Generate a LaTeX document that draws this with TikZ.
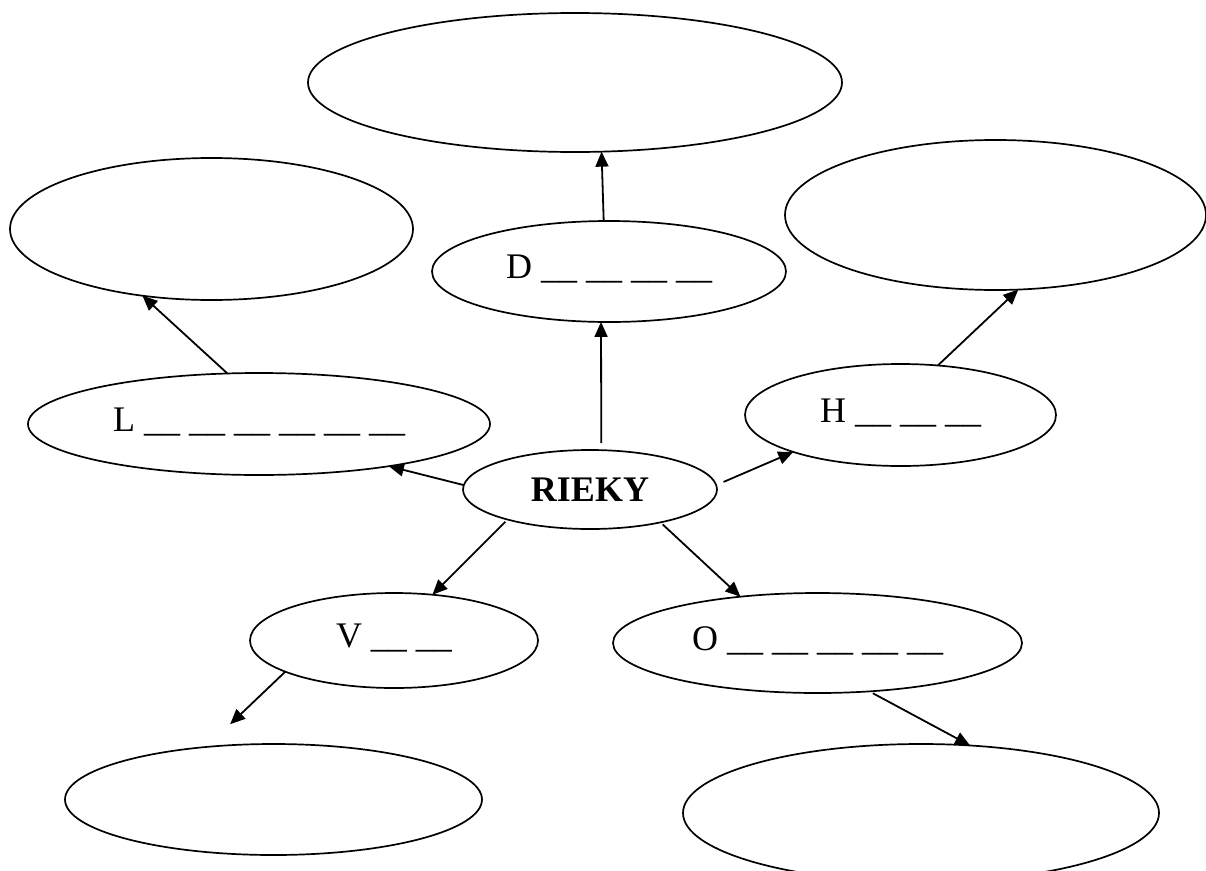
\documentclass[tikz,border=0pt]{standalone}
\usepackage{fontspec}
\setmainfont{Liberation Serif}
\usetikzlibrary{shapes.geometric,arrows.meta}
\tikzset{
  ell/.style={draw, ellipse, line width=1.7pt, inner sep=0pt, outer sep=0pt},
  blank/.style={text height=24pt, text depth=10pt},
  arr/.style={line width=1.8pt, -{Triangle[length=15pt,width=13pt]}}
}
\begin{document}
\begin{tikzpicture}[x=1pt,y=-1pt,font=\fontsize{36}{43}\selectfont]
\useasboundingbox (0,0) rectangle (1206,870);
\clip (0,0) rectangle (1206,870);
\node[ell, minimum width=534pt, minimum height=139pt] (top) at (575,82.5) {};
\node[ell, minimum width=403pt, minimum height=142pt] (tl) at (211.5,229) {};
\node[ell, minimum width=421pt, minimum height=150pt] (tr) at (995.5,215) {};
\node[ell, blank, minimum width=354pt, minimum height=101pt] (d) at (609,271.5) {D \_\_ \_\_ \_\_ \_\_};
\node[ell, blank, minimum width=462pt, minimum height=102pt] (l) at (259,424) {L \_\_ \_\_ \_\_ \_\_ \_\_ \_\_};
\node[ell, blank, minimum width=311pt, minimum height=102pt] (h) at (900.5,415) {H \_\_ \_\_ \_\_};
\node[ell, minimum width=254pt, minimum height=79pt] (r) at (590,489.5) {\textbf{RIEKY}};
\node[ell, blank, minimum width=288pt, minimum height=95pt] (v) at (394,640.5) {V \_\_ \_\_};
\node[ell, blank, minimum width=409pt, minimum height=100pt] (o) at (817.5,643) {O \_\_ \_\_ \_\_ \_\_ \_\_};
\node[ell, minimum width=417pt, minimum height=111pt] (bl) at (273.5,799.5) {};
\node[ell, minimum width=476pt, minimum height=138pt] (br) at (921,813) {};
\draw[arr, shorten <=7pt] (r.74.4) -- (d.261.2);
\draw[arr] (d.96.9) -- (top.291.7);
\draw[arr] (r.178.9) -- (l.342);
\draw[arr] (l.122.1) -- (tl.224.8);
\draw[arr, shorten <=8pt] (r.2.4) -- (h.199.7);
\draw[arr] (h.53.9) -- (tr.287.9);
\draw[arr, shorten <=3pt] (r.200.8) -- (v.50);
\draw[arr, shorten <=3pt] (r.335.6) -- (o.149.1);
\draw[arr, shorten >=33pt] (v.196.8) -- (bl.142.6);
\draw[arr, shorten <=4pt] (o.317.8) -- (br.54.6);
\end{tikzpicture}
\end{document}
